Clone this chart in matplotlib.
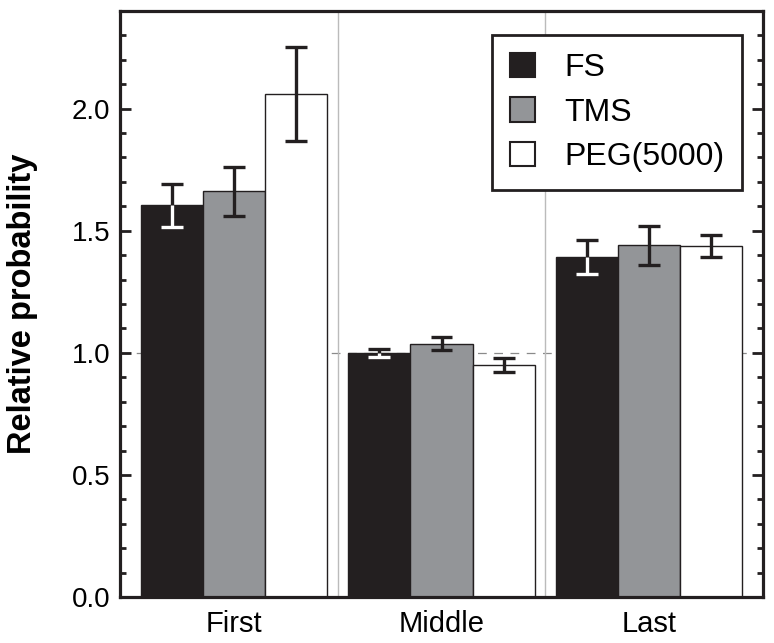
import numpy as np
import matplotlib.pyplot as plt
from matplotlib.patches import Patch
from matplotlib.ticker import MultipleLocator

plt.rcParams['font.family'] = ['Liberation Sans', 'DejaVu Sans']

positions = ['First', 'Middle', 'Last']
series = ['FS', 'TMS', 'PEG(5000)']

fs_vals = [1.605, 1.000, 1.393]
fs_err = [0.088, 0.016, 0.070]
tms_vals = [1.662, 1.037, 1.441]
tms_err = [0.100, 0.026, 0.080]
peg_vals = [2.061, 0.950, 1.437]
peg_err = [0.193, 0.027, 0.045]

DARK = '#231f20'
colors = [DARK, '#939598', 'white']
inner_err_colors = ['white', DARK, DARK]

values = [fs_vals, tms_vals, peg_vals]
errors = [fs_err, tms_err, peg_err]

fig = plt.figure(figsize=(7.74, 6.43), dpi=100)
ax = fig.add_axes([120 / 774, 46 / 643, 643 / 774, 586 / 643])

x = np.arange(len(positions))
width = 0.3
cap = 0.053

ax.axhline(1.0, color='#8a8a8a', lw=0.9, dashes=(7, 6), zorder=0)
for sep in [0.5, 1.5]:
    ax.axvline(sep, color='#bbbbbb', lw=1.0, zorder=0)

for i, (vals, errs) in enumerate(zip(values, errors)):
    xs = x + (i - 1) * width
    ax.bar(xs, vals, width, color=colors[i], edgecolor=DARK, linewidth=1.0, zorder=2)
    vals = np.array(vals)
    errs = np.array(errs)
    # upper half of the error bar sits above the bar
    ax.vlines(xs, vals, vals + errs, color=DARK, lw=2.4, zorder=3)
    ax.hlines(vals + errs, xs - cap, xs + cap, color=DARK, lw=2.4, zorder=3)
    # lower half sits inside the bar
    ax.vlines(xs, vals - errs, vals, color=inner_err_colors[i], lw=2.4, zorder=3)
    ax.hlines(vals - errs, xs - cap, xs + cap, color=inner_err_colors[i], lw=2.4, zorder=3)

ax.set_xlim(-0.55, 2.55)
ax.set_ylim(0, 2.4)
ax.set_xticks(x)
ax.set_xticklabels(positions, fontsize=21)
ax.tick_params(axis='x', length=0, pad=9)

ax.yaxis.set_major_locator(MultipleLocator(0.5))
ax.yaxis.set_minor_locator(MultipleLocator(0.1))
ax.set_yticks(np.arange(0, 2.01, 0.5))
ax.set_yticklabels(['0.0', '0.5', '1.0', '1.5', '2.0'], fontsize=20)
ax.tick_params(axis='y', which='both', direction='in', right=True, width=2.0, colors=DARK, labelcolor='black')
ax.tick_params(axis='y', which='major', length=8, pad=7)
ax.tick_params(axis='y', which='minor', length=4)
ax.set_ylabel('Relative probability', fontsize=23.5, fontweight='bold')
ax.yaxis.set_label_coords(-0.128, 0.5)

for sp in ax.spines.values():
    sp.set_linewidth(2.3)
    sp.set_color(DARK)

handles = [Patch(facecolor=c, edgecolor=DARK, linewidth=1.5) for c in colors]
leg = ax.legend(handles, series, loc='upper right', bbox_to_anchor=(0.967, 0.959),
                borderaxespad=0, fontsize=23, fancybox=False, framealpha=1,
                edgecolor=DARK, handlelength=0.8, handleheight=0.8,
                handletextpad=0.9, borderpad=0.55, labelspacing=0.45)
leg.get_frame().set_linewidth(2.0)

fig.savefig('out.png', dpi=100)
